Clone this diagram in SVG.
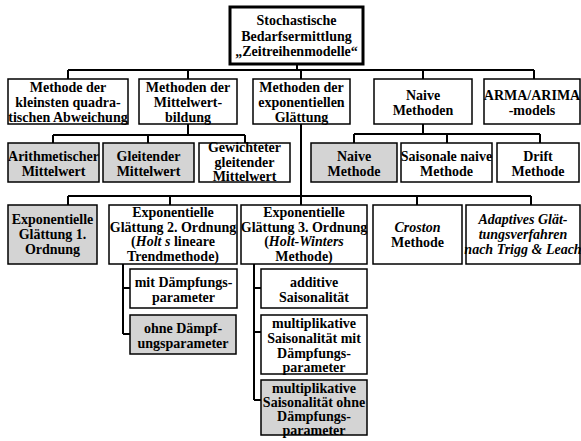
<svg xmlns="http://www.w3.org/2000/svg" width="581" height="441" viewBox="0 0 581 441">
<style>
.b{fill:#fff;stroke:#000;stroke-width:1.5}
.g{fill:#d4d4d4;stroke:#000;stroke-width:1.5}
.top{fill:#fff;stroke:#000;stroke-width:3}
text{font-family:"Liberation Serif","Times New Roman",serif;font-weight:bold;font-size:14px;text-anchor:middle;fill:#000}
.i{font-style:italic}
.c{fill:none;stroke:#000;stroke-width:2}
</style>
<rect width="581" height="441" fill="#fff"/>
<g id="connectors">
<path class="c" d="M297,64V70M68,70H534M68,70V79M188,70V79M301,70V79M423,70V79M534,70V79"/>
<path class="c" d="M188,124V135M53,135H245M53,135V143M148,135V143M245,135V143"/>
<path class="c" d="M423,124V134M354,134H540M354,134V143M447,134V143M540,134V143"/>
<path class="c" d="M301,124V205M68,196H531M68,196V205M170,196V205M417,196V205M531,196V205"/>
<path class="c" d="M123,264V334M123,288H130M123,334H130"/>
<path class="c" d="M254,264V400M254,288H261M254,332H261M254,400H261"/>
</g>
<g id="root">
<rect class="top" x="230" y="7" width="133" height="57"/>
<text x="296.5" y="25">Stochastische</text>
<text x="296.5" y="40.5">Bedarfsermittlung</text>
<text x="296.5" y="56">„Zeitreihenmodelle“</text>
</g>
<g id="n-kq">
<rect class="b" x="8" y="79" width="120" height="45"/>
<text x="68" y="92">Methode der</text>
<text x="68" y="107">kleinsten quadra-</text>
<text x="68" y="122">tischen Abweichung</text>
</g>
<g id="n-mw">
<rect class="b" x="139" y="79" width="98" height="45"/>
<text x="188" y="92">Methoden der</text>
<text x="188" y="107">Mittelwert-</text>
<text x="188" y="122">bildung</text>
</g>
<g id="n-exp">
<rect class="b" x="253" y="79" width="97" height="45"/>
<text x="301.5" y="92">Methoden der</text>
<text x="301.5" y="107">exponentiellen</text>
<text x="301.5" y="122">Glättung</text>
</g>
<g id="n-naive">
<rect class="b" x="374" y="79" width="98" height="45"/>
<text x="423" y="100">Naive</text>
<text x="423" y="115">Methoden</text>
</g>
<g id="n-arma">
<rect class="b" x="484" y="79" width="96" height="45"/>
<text x="532" y="100">ARMA/ARIMA</text>
<text x="532" y="115">-models</text>
</g>
<g id="n-arith">
<rect class="g" x="8" y="143" width="91" height="39"/>
<text x="53.5" y="161">Arithmetischer</text>
<text x="53.5" y="176">Mittelwert</text>
</g>
<g id="n-gleit">
<rect class="g" x="103" y="143" width="91" height="39"/>
<text x="148.5" y="161">Gleitender</text>
<text x="148.5" y="176">Mittelwert</text>
</g>
<g id="n-gew">
<rect class="b" x="199" y="143" width="91" height="39"/>
<text x="244.5" y="152">Gewichteter</text>
<text x="244.5" y="167">gleitender</text>
<text x="244.5" y="181">Mittelwert</text>
</g>
<g id="n-nm">
<rect class="g" x="311" y="143" width="86" height="39"/>
<text x="354" y="161">Naive</text>
<text x="354" y="176">Methode</text>
</g>
<g id="n-sn">
<rect class="b" x="401" y="143" width="91" height="39"/>
<text x="446.5" y="161">Saisonale naive</text>
<text x="446.5" y="176">Methode</text>
</g>
<g id="n-drift">
<rect class="b" x="497" y="143" width="82" height="39"/>
<text x="538" y="161">Drift</text>
<text x="538" y="176">Methode</text>
</g>
<g id="n-e1">
<rect class="g" x="8" y="205" width="89" height="59"/>
<text x="52.5" y="224">Exponentielle</text>
<text x="52.5" y="239">Glättung 1.</text>
<text x="52.5" y="254">Ordnung</text>
</g>
<g id="n-e2">
<rect class="b" x="109" y="205" width="128" height="59"/>
<text x="173" y="217">Exponentielle</text>
<text x="173" y="231.5">Glättung 2. Ordnung</text>
<text x="173" y="246">(<tspan class="i">Holt s</tspan> lineare</text>
<text x="173" y="260.5">Trendmethode)</text>
</g>
<g id="n-e3">
<rect class="b" x="241" y="205" width="126" height="59"/>
<text x="304" y="217">Exponentielle</text>
<text x="304" y="231.5">Glättung 3. Ordnung</text>
<text x="304" y="246">(<tspan class="i">Holt-Winters</tspan></text>
<text x="304" y="260.5">Methode)</text>
</g>
<g id="n-croston">
<rect class="b" x="373" y="205" width="89" height="59"/>
<text class="i" x="417.5" y="232">Croston</text>
<text x="417.5" y="247">Methode</text>
</g>
<g id="n-adapt">
<rect class="b" x="466" y="205" width="114" height="59"/>
<text class="i" x="523" y="224">Adaptives Glät-</text>
<text class="i" x="523" y="239">tungsverfahren</text>
<text class="i" x="523" y="254">nach Trigg &amp; Leach</text>
</g>
<g id="n-mit">
<rect class="b" x="130" y="269" width="107" height="39"/>
<text x="183.5" y="286.5">mit Dämpfungs-</text>
<text x="183.5" y="301.5">parameter</text>
</g>
<g id="n-ohne">
<rect class="g" x="130" y="315" width="106" height="39"/>
<text x="183" y="332.5">ohne Dämpf-</text>
<text x="183" y="347.5">ungsparameter</text>
</g>
<g id="n-add">
<rect class="b" x="261" y="269" width="106" height="39"/>
<text x="314" y="286.5">additive</text>
<text x="314" y="301.5">Saisonalität</text>
</g>
<g id="n-mm">
<rect class="b" x="261" y="315" width="106" height="59"/>
<text x="314" y="328">multiplikative</text>
<text x="314" y="343">Saisonalität mit</text>
<text x="314" y="358">Dämpfungs-</text>
<text x="314" y="372">parameter</text>
</g>
<g id="n-mo">
<rect class="g" x="261" y="380" width="106" height="55"/>
<text x="314" y="393">multiplikative</text>
<text x="314" y="407">Saisonalität ohne</text>
<text x="314" y="421">Dämpfungs-</text>
<text x="314" y="435">parameter</text>
</g>
</svg>
